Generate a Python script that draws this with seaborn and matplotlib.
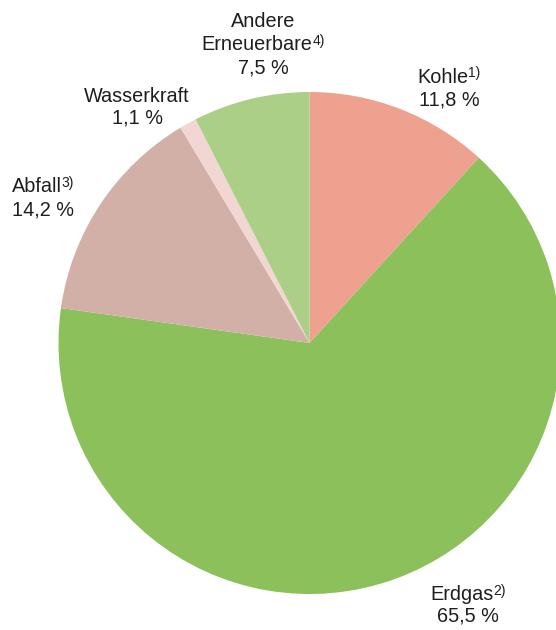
import matplotlib
matplotlib.use("Agg")
import matplotlib.pyplot as plt
import seaborn as sns

# Data
categories = ["Kohle", "Erdgas", "Abfall", "Wasserkraft", "Andere Erneuerbare"]
shares = [11.8, 65.5, 14.2, 1.1, 7.5]
# each label line: (text, superscript)
label_lines = [
    [("Kohle", "1)"), ("11,8 %", "")],
    [("Erdgas", "2)"), ("65,5 %", "")],
    [("Abfall", "3)"), ("14,2 %", "")],
    [("Wasserkraft", ""), ("1,1 %", "")],
    [("Andere", ""), ("Erneuerbare", "4)"), ("7,5 %", "")],
]
colors = ["#EFA190", "#8BC05A", "#D2B0A7", "#F2D6D4", "#ABCF86"]

sns.set_theme(style="white")
plt.rcParams["font.family"] = ["Liberation Sans", "DejaVu Sans"]

W, H = 556, 630
fig = plt.figure(figsize=(W / 100, H / 100), dpi=100)
fig.patch.set_facecolor("white")

cx, cy, r = 309.5, 343, 251
ax = fig.add_axes([(cx - r) / W, (H - cy - r) / H, 2 * r / W, 2 * r / H])
ax.pie(shares, colors=colors, startangle=90, counterclock=False,
       radius=1, wedgeprops=dict(linewidth=0))
ax.set_xlim(-1, 1)
ax.set_ylim(-1, 1)
ax.axis("off")

# label layout: (x center in px, baselines in px)
label_pos = [
    (449, [83, 105]),
    (468, [600, 622]),
    (43, [192, 215]),
    (137, [102, 124]),
    (263, [27, 50, 73]),
]
renderer = fig.canvas.get_renderer()
FS, SFS, TXT = 14.3, 10, "#1e1e1e"
GAP = 0
for lines, (x, ys) in zip(label_lines, label_pos):
    for (s, sup), y in zip(lines, ys):
        tb = fig.text(0, 1 - y / H, s, ha="left", va="baseline",
                      fontsize=FS, color=TXT)
        wb = tb.get_window_extent(renderer).width
        ws = 0
        ts = None
        if sup:
            ts = fig.text(0, 1 - (y - 5.5) / H, sup, ha="left", va="baseline",
                          fontsize=SFS, color=TXT)
            ws = ts.get_window_extent(renderer).width + GAP
        x0 = x - (wb + ws) / 2
        tb.set_x(x0 / W)
        if ts is not None:
            ts.set_x((x0 + wb + GAP) / W)

fig.savefig("out.png", dpi=100)
